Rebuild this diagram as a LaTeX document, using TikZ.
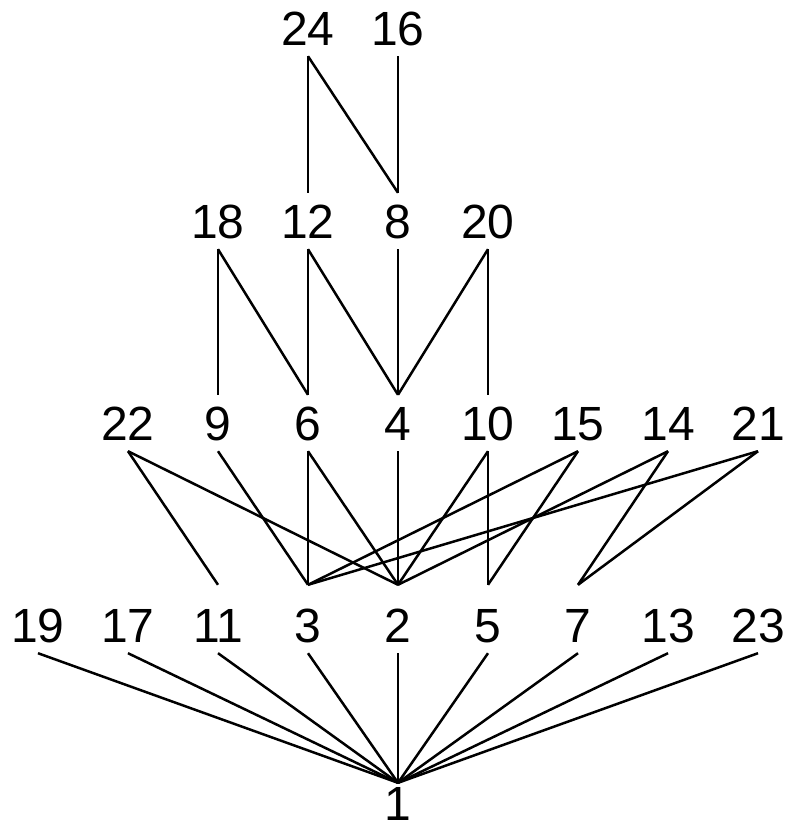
\documentclass[tikz,border=0pt]{standalone}
\usepackage{fontspec}
\newfontfamily\numfont{Liberation Sans}
\usepackage{tikz}

\begin{document}
\begin{tikzpicture}[
    x=1pt, y=-1pt,
    num/.style = {anchor=base, inner xsep=0pt, inner ysep=11pt, text height=34pt, text depth=0pt, font=\numfont\fontsize{48}{48}\selectfont},
    atom/.style = {num, text height=46pt},
    edge/.style = {line width=2.5pt}
]
    \useasboundingbox (0,0) rectangle (800,830);

    % Nodes
    \node (n24) [num] at (308,45) {24};
    \node (n16) [num] at (398,45) {16};

    \node (n18) [num] at (218,238) {18};
    \node (n12) [num] at (308,238) {12};
    \node (n8)  [num] at (398,238) {8};
    \node (n20) [num] at (488,238) {20};

    \node (n22) [num] at (128,440) {22};
    \node (n9)  [num] at (218,440) {9};
    \node (n6)  [num] at (308,440) {6};
    \node (n4)  [num] at (398,440) {4};
    \node (n10) [num] at (488,440) {10};
    \node (n15) [num] at (578,440) {15};
    \node (n14) [num] at (668,440) {14};
    \node (n21) [num] at (758,440) {21};

    \node (n19) [atom] at (38,642)  {19};
    \node (n17) [atom] at (128,642) {17};
    \node (n11) [atom] at (218,642) {11};
    \node (n3)  [atom] at (308,642) {3};
    \node (n2)  [atom] at (398,642) {2};
    \node (n5)  [atom] at (488,642) {5};
    \node (n7)  [atom] at (578,642) {7};
    \node (n13) [atom] at (668,642) {13};
    \node (n23) [atom] at (758,642) {23};

    \node (n1) [num, inner ysep=0pt, text height=37pt] at (398,820) {1};

    % Edges
    \draw [edge] (n1.north) -- (n19.south);
    \draw [edge] (n1.north) -- (n17.south);
    \draw [edge] (n1.north) -- (n11.south);
    \draw [edge] (n1.north) -- (n3.south);
    \draw [edge] (n1.north) -- (n2.south);
    \draw [edge] (n1.north) -- (n5.south);
    \draw [edge] (n1.north) -- (n7.south);
    \draw [edge] (n1.north) -- (n13.south);
    \draw [edge] (n1.north) -- (n23.south);

    \draw [edge] (n11.north) -- (n22.south);
    \draw [edge] (n3.north) -- (n9.south);
    \draw [edge] (n3.north) -- (n6.south);
    \draw [edge] (n3.north) -- (n15.south);
    \draw [edge] (n3.north) -- (n21.south);
    \draw [edge] (n2.north) -- (n22.south);
    \draw [edge] (n2.north) -- (n6.south);
    \draw [edge] (n2.north) -- (n4.south);
    \draw [edge] (n2.north) -- (n10.south);
    \draw [edge] (n2.north) -- (n14.south);
    \draw [edge] (n5.north) -- (n10.south);
    \draw [edge] (n5.north) -- (n15.south);
    \draw [edge] (n7.north) -- (n14.south);
    \draw [edge] (n7.north) -- (n21.south);

    \draw [edge] (n9.north) -- (n18.south);
    \draw [edge] (n6.north) -- (n18.south);
    \draw [edge] (n6.north) -- (n12.south);
    \draw [edge] (n4.north) -- (n12.south);
    \draw [edge] (n4.north) -- (n8.south);
    \draw [edge] (n4.north) -- (n20.south);
    \draw [edge] (n10.north) -- (n20.south);

    \draw [edge] (n12.north) -- (n24.south);
    \draw [edge] (n8.north) -- (n24.south);
    \draw [edge] (n8.north) -- (n16.south);

\end{tikzpicture}
\end{document}
